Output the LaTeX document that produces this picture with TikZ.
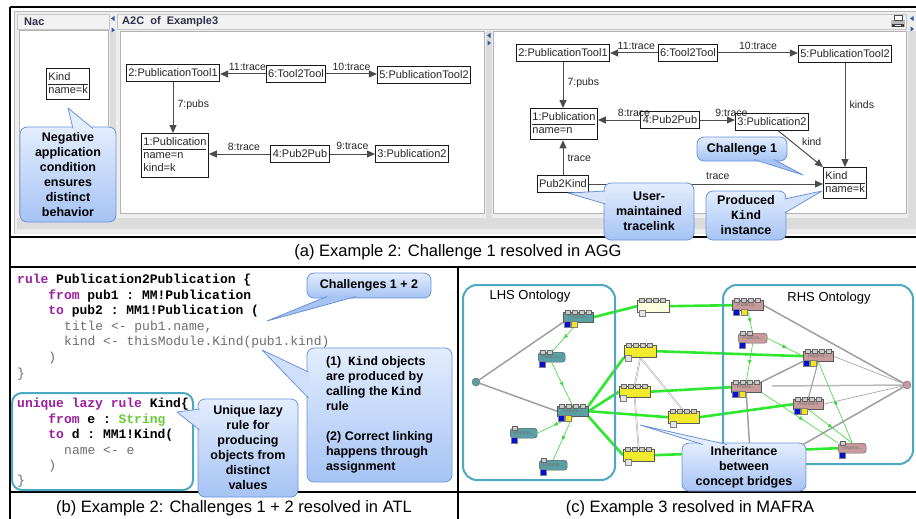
\documentclass[tikz,border=0pt]{standalone}
\usepackage{fontspec}
\setmainfont{Liberation Sans}
\setsansfont{Liberation Sans}
\setmonofont{Liberation Mono}
\usetikzlibrary{arrows.meta,calc,decorations.markings}
\newcommand\myfs[2]{\fontsize{#1}{#2}\selectfont}
\newcommand\objrows[2]{\begin{tabular}{@{}l@{}}#1\\\hline #2\end{tabular}}
\pgfdeclarelayer{back}\pgfdeclarelayer{edges}
\pgfsetlayers{back,edges,main}
\definecolor{cTop}{HTML}{E3EDFD}
\definecolor{cBot}{HTML}{A6C3F4}
\definecolor{cEdge}{HTML}{6C93D8}
\definecolor{ontoline}{HTML}{4DA8C2}
\definecolor{kw}{HTML}{9B1FA0}
\definecolor{strg}{HTML}{66CC33}
\definecolor{codegray}{HTML}{6E6E6E}
\definecolor{lnode}{HTML}{5A9FA3}
\definecolor{rnode}{HTML}{C79B9B}
\definecolor{ynode}{HTML}{F2EA2C}
\definecolor{pnode}{HTML}{FFFFDD}
\definecolor{gthick}{HTML}{2EE82E}
\definecolor{gthin}{HTML}{3ADA3A}
\definecolor{panelbg}{HTML}{EEEEEE}
\definecolor{hdrbg}{HTML}{F2F2F2}
\definecolor{stripc}{HTML}{DCDCDC}
\definecolor{sqblue}{HTML}{0010D8}
\definecolor{sqyel}{HTML}{F4E21C}
\definecolor{hdrtext}{HTML}{303048}
\definecolor{splitarr}{HTML}{2C5AA8}
\newcommand\ontonode[8]{%
  \node[obox, fill=#5, minimum width=#4pt, #8] (#1) at (#2,#3) {#7};
  \foreach \k in {1,...,#6} {\node[tsq] at ($(#1.north west)+(\k*7-2.5,0)$) {};}
}
% pointer of a callout: #1 tip coordinate name, #2 #3 base points, #4 fill colour
\newcommand\calloutptr[4]{%
  \fill[#4] (#1) -- #2 -- #3 -- cycle;
  \draw[ptrline] #2 -- (#1) -- #3;
}
\begin{document}
\begin{tikzpicture}[x=1pt,y=-1pt,
  framel/.style={draw=black, line width=1.6pt},
  obj/.style={draw=black!90, line width=0.9pt, fill=white, inner xsep=2pt, inner ysep=2pt, minimum height=16.5pt, font=\myfs{11}{13}, text=black!85},
  objm/.style={obj, anchor=north west, inner ysep=2.5pt},
  elab/.style={font=\myfs{10.5}{12}, text=black!85, inner sep=1pt},
  arr/.style={draw=black!70, line width=1pt, -{Triangle[length=8pt,width=7pt]}},
  cbox/.style={rectangle, draw=cEdge, line width=0.8pt, top color=cTop, bottom color=cBot, rounded corners=7pt, font=\bfseries\myfs{12.5}{15}, align=center, inner sep=3pt, text=black},
  ptrline/.style={draw=cEdge, line width=0.8pt, line join=round},
  codeln/.style={anchor=base west, inner sep=0pt, font=\ttfamily\myfs{13}{15}},
  captxt/.style={font=\myfs{16.5}{18}, text=black, inner sep=0pt},
  obox/.style={draw=black!65, line width=0.4pt, anchor=north west, minimum height=10pt, inner sep=0pt, font=\myfs{5}{5}, text=black!55},
  tsq/.style={draw=black!60, fill=gray!40, line width=0.3pt, minimum size=4.5pt, inner sep=0pt},
  bsq/.style={draw=black!50, fill=sqblue, line width=0.3pt, minimum size=6pt, inner sep=0pt},
  ysq/.style={draw=black!50, fill=sqyel, line width=0.3pt, minimum size=6pt, inner sep=0pt},
  gsq/.style={draw=black!50, fill=gray!20, line width=0.3pt, minimum size=6pt, inner sep=0pt},
  gline/.style={draw=gray!75, line width=1.5pt},
  gthinl/.style={draw=gray!70, line width=0.7pt},
  grthick/.style={draw=gthick, line width=2.6pt},
  midarr/.style={postaction={decorate}, decoration={markings, mark=at position 0.55 with {\arrow{Latex[length=4.5pt,width=4pt]}}}},
  grthin/.style={draw=gthin, line width=0.6pt, midarr},
  ontobox/.style={draw=ontoline, line width=2pt, rounded corners=14pt},
  splt/.style={fill=splitarr}
]
\useasboundingbox (0,0) rectangle (916,519);
\begin{pgfonlayer}{back}
  \fill[white] (0,0) rectangle (916,519);
  \fill[panelbg] (14,11) rectangle (916,234);
  \draw[gray!55, line width=0.8pt] (14,234) -- (14,11) -- (916,11);
  \draw[gray!45, fill=hdrbg] (17,14) rectangle (109,29);
  \draw[gray!45, fill=hdrbg] (117,14) rectangle (906,29);
  \draw[gray!60, fill=white] (19,30) rectangle (108,214);
  \draw[gray!60, fill=white] (120,31) rectangle (484,213);
  \draw[gray!60, fill=white] (493,31) rectangle (906,213);
  \fill[stripc] (17,218) rectangle (916,229);
  \fill[stripc] (110,30) rectangle (116,218);
  \fill[stripc] (486,31) rectangle (492,218);
  \fill[stripc] (908,31) rectangle (916,218);
  % splitter arrows
  \fill[splt] (111,18.5) -- (114.5,16) -- (114.5,21) -- cycle;
  \fill[splt] (115,30) -- (111.5,27.5) -- (111.5,32.5) -- cycle;
  \fill[splt] (487,35.5) -- (490.5,33) -- (490.5,38) -- cycle;
  \fill[splt] (491,43) -- (487.5,40.5) -- (487.5,45.5) -- cycle;
  \fill[splt] (910,18.5) -- (913.5,16) -- (913.5,21) -- cycle;
  \fill[splt] (914,29) -- (910.5,26.5) -- (910.5,31.5) -- cycle;
  % printer icon
  \fill[gray!55] (891,20) rectangle (905,27);
  \fill[white] (894,15.5) rectangle (902,20);
  \draw[black!70, line width=0.5pt] (894,15.5) rectangle (902,20);
  \fill[black!75] (892,24) rectangle (904,27.5);
  \fill[white] (895,25.2) rectangle (901,26.4);
\end{pgfonlayer}

% headers
\node[anchor=west, font=\bfseries\myfs{11}{13}, text=hdrtext, inner sep=0pt] (hnac) at (24,22) {Nac};
\node[anchor=west, font=\bfseries\myfs{11}{13}, text=hdrtext, inner sep=0pt] (ha2c) at (122,22) {A2C\ \ of\ \ Example3};

% ---------- Nac ----------
\node[objm] (kind0) at (46,68) {\objrows{Kind}{name=k}};

% ---------- A2C panel ----------
\node[obj] (pt1a) at (173,73) {2:PublicationTool1};
\node[obj] (t2ta) at (296,74) {6:Tool2Tool};
\node[obj] (pt2a) at (424,75) {5:PublicationTool2};
\node[objm] (pub1a) at (141,133) {\begin{tabular}{@{}l@{}}1:Publication\\\hline name=n\\kind=k\end{tabular}};
\node[obj] (p2pa) at (300,154) {4:Pub2Pub};
\node[obj] (pub2a) at (412,154) {3:Publication2};
\draw[arr] (t2ta.west) -- node[elab, above=2pt, pos=0.4] {11:trace} (t2ta.west -| pt1a.east);
\draw[arr] (t2ta.east) -- node[elab, above=2pt, pos=0.5] {10:trace} (t2ta.east -| pt2a.west);
\draw[arr] (pt1a.south) -- node[elab, right=3pt, pos=0.45] {7:pubs} (pt1a.south |- pub1a.north);
\draw[arr] (p2pa.west) -- node[elab, above=2pt, pos=0.43] {8:trace} (p2pa.west -| pub1a.east);
\draw[arr] (p2pa.east) -- node[elab, above=3pt, pos=0.5] {9:trace} (p2pa.east -| pub2a.west);

% ---------- right panel ----------
\node[obj] (pt1b) at (563,53) {2:PublicationTool1};
\node[obj] (t2tb) at (688,53) {6:Tool2Tool};
\node[obj] (pt2b) at (845,54) {5:PublicationTool2};
\node[objm] (pub1b) at (530,108) {\objrows{1:Publication}{name=n}};
\node[obj] (p2pb) at (670,120) {4:Pub2Pub};
\node[obj] (pub2b) at (772,122) {3:Publication2};
\node[objm] (kindb) at (823,167) {\objrows{Kind}{name=k}};
\node[obj] (p2k) at (563,184) {Pub2Kind};
\draw[arr] (t2tb.west) -- node[elab, above=2pt, pos=0.45] {11:trace} (t2tb.west -| pt1b.east);
\draw[arr] (t2tb.east) -- node[elab, above=2pt, pos=0.5] {10:trace} (t2tb.east -| pt2b.west);
\draw[arr] (pt1b.south) -- node[elab, right=3pt, pos=0.45] {7:pubs} (pt1b.south |- pub1b.north);
\draw[arr] (p2pb.west) -- node[elab, above=2pt, pos=0.15] {8:trace} (p2pb.west -| pub1b.east);
\draw[arr] (p2pb.east) -- node[elab, above=2pt, pos=0.9] {9:trace} (p2pb.east -| pub2b.west);
\draw[arr] (pt2b.south) -- node[elab, right=3pt, pos=0.4] {kinds} (pt2b.south |- kindb.north);
\draw[arr] (pub2b.-55) -- node[elab, right=9pt, pos=0.3] {kind} (kindb.north west);
\draw[arr] (p2k.north) -- node[elab, right=3pt, pos=0.5] {trace} (p2k.north |- pub1b.south);
\draw[arr] (p2k.east) -- node[elab, above=3pt, pos=0.55] {trace} (p2k.east -| kindb.west);

% ---------- frame lines ----------
\draw[framel] (10,7) -- (916,7);
\draw[framel] (10,7) -- (10,519);
\draw[framel] (10,237) -- (916,237);
\draw[framel] (10,267) -- (916,267);
\draw[framel] (458,267) -- (458,519);
\draw[framel] (10,492) -- (916,492);

% ---------- captions ----------
\node[captxt] (capa) at (458,252) {(a) Example 2: Challenge 1 resolved in AGG};
\node[captxt] (capb) at (234,508) {(b) Example 2: Challenges 1 + 2 resolved in ATL};
\node[captxt] (capc) at (690,508) {(c) Example 3 resolved in MAFRA};

% ---------- (b) ATL code ----------
\draw[ontobox, rounded corners=10pt] (12,393) rectangle (193,490);
\node[codeln] (l1) at (17,283) {{\color{kw}\bfseries rule} {\bfseries Publication2Publication \{}};
\node[codeln] (l2) at (48.2,299) {{\color{kw}\bfseries from} {\bfseries pub1 : MM!Publication}};
\node[codeln] (l3) at (48.2,314) {{\color{kw}\bfseries to} {\bfseries pub2 : MM1!Publication (}};
\node[codeln, text=codegray] (l4) at (64,330) {title <- pub1.name,};
\node[codeln, text=codegray] (l5) at (64,345) {kind <- thisModule.Kind(pub1.kind)};
\node[codeln, text=codegray] (l6) at (48.2,361) {)};
\node[codeln, text=codegray] (l7) at (17,377) {\}};
\node[codeln] (l8) at (17,407) {{\color{kw}\bfseries unique lazy rule} {\bfseries Kind\{}};
\node[codeln] (l9) at (48.2,423) {{\color{kw}\bfseries from} {\bfseries e :} {\color{strg}\bfseries String}};
\node[codeln] (l10) at (48.2,438) {{\color{kw}\bfseries to} {\bfseries d : MM1!Kind(}};
\node[codeln, text=codegray] (l11) at (64,454) {name <- e};
\node[codeln, text=codegray] (l12) at (48.2,469) {)};
\node[codeln, text=codegray] (l13) at (17,484) {\}};

% ---------- (c) MAFRA ----------
\draw[ontobox] (463,285) rectangle (615,480);
\draw[ontobox] (723,285) rectangle (913,464);
\node[font=\myfs{13}{15}, inner sep=0pt] (lhs) at (530,296) {LHS Ontology};
\node[font=\myfs{13}{15}, inner sep=0pt] (rhs) at (829,298) {RHS Ontology};
\node[circle, draw=black!60, fill=lnode, minimum size=8pt, inner sep=0pt, line width=0.4pt] (LC) at (476,382) {};
\node[circle, draw=black!60, fill=rnode, minimum size=8pt, inner sep=0pt, line width=0.4pt] (RC) at (907,385) {};
\ontonode{A}{563}{312}{30}{lnode}{4}{Publica...}{}
\ontonode{B}{538}{352}{27}{lnode}{2}{Publica...}{rounded corners=3pt}
\ontonode{C}{557}{406}{31}{lnode}{4}{Repeat...}{}
\ontonode{D}{510}{428}{27}{lnode}{1}{Repear...}{rounded corners=3pt}
\ontonode{E}{539}{460}{28}{lnode}{1}{Repear...}{rounded corners=3pt}
\ontonode{PL}{637}{300}{32}{pnode}{4}{}{minimum height=12pt}
\ontonode{Y1}{624}{345}{32}{ynode}{4}{}{minimum height=12pt}
\ontonode{Y2}{619}{386}{31}{ynode}{4}{}{minimum height=11pt}
\ontonode{Y3}{668}{411}{31}{ynode}{4}{}{minimum height=12pt}
\ontonode{Y4}{623}{449}{31}{ynode}{4}{}{minimum height=12pt}
\ontonode{P1}{732}{300}{31}{rnode}{4}{Publica...}{}
\ontonode{P2}{738}{333}{29}{rnode}{2}{Publica...}{rounded corners=3pt}
\ontonode{P3}{803}{351}{30}{rnode}{4}{Repeat...}{}
\ontonode{P4}{731}{382}{30}{rnode}{4}{Protec...}{}
\ontonode{P5}{793}{399}{30}{rnode}{4}{Assistant}{}
\ontonode{P6}{838}{443}{28}{rnode}{1}{Repear...}{rounded corners=3pt}
\node[bsq] at ($(A.south west)+(4,2)$) {};
\node[ysq] at ($(A.south west)+(11,2)$) {};
\node[bsq] at ($(B.south west)+(4,2)$) {};
\node[bsq] at ($(C.south west)+(4,2)$) {};
\node[ysq] at ($(C.south west)+(11,2)$) {};
\node[bsq] at ($(D.south west)+(4,2)$) {};
\node[bsq] at ($(E.south west)+(4,2)$) {};
\node[gsq] at ($(PL.south west)+(5,1)$) {};
\node[gsq] at ($(Y1.south west)+(4,1)$) {};
\node[gsq] at ($(Y2.south west)+(4,1)$) {};
\node[gsq] at ($(Y3.south west)+(5,1)$) {};
\node[gsq] at ($(Y4.south west)+(5,1)$) {};
\node[bsq] at ($(P1.south west)+(4,2)$) {};
\node[ysq] at ($(P1.south west)+(12,2)$) {};
\node[bsq] at ($(P2.south west)+(4,2)$) {};
\node[bsq] at ($(P3.south west)+(3,2)$) {};
\node[ysq] at ($(P3.south west)+(10,2)$) {};
\node[bsq] at ($(P4.south west)+(4,2)$) {};
\node[ysq] at ($(P4.south west)+(11,2)$) {};
\node[bsq] at ($(P5.south west)+(4,2)$) {};
\node[ysq] at ($(P5.south west)+(11,2)$) {};
\node[bsq] at ($(P6.south west)+(4,2)$) {};
\coordinate (hz) at (772,386);
\coordinate (rcd) at (790,452);
\coordinate (p4d) at (750,452);
\begin{pgfonlayer}{edges}
  \draw[gline] (LC) -- (A.south west);
  \draw[gline] (LC) -- (C.west);
  \draw[gthinl, double=white, double distance=0.6pt, line width=0.5pt] (Y1.south) -- (Y2.north);
  \draw[gthinl, double=white, double distance=0.6pt, line width=0.5pt] (Y1.south) -- (Y3.north);
  \draw[gthinl, double=white, double distance=0.6pt, line width=0.5pt] (Y2.south) -- (Y4.north);
  \draw[gline] (RC) -- (P1.east);
  \draw[gthinl] (RC) -- (P3.east);
  \draw[gline, draw=gray!55] (RC) -- (hz);
  \draw[gthinl] (RC) -- (P5.east);
  \draw[gline] (RC) -- (rcd);
  \draw[gline] (P4.north east) -- (P3.south west);
  \draw[gline, line width=1.1pt] (P5.north) -- (P3.south);
  \draw[gline] (P4.south) -- (p4d);
  \draw[grthick] (A.east) -- (PL.west);
  \draw[grthick] (PL.east) -- (P1.west);
  \draw[grthick] (C.north east) -- (Y1.south west);
  \draw[grthick] (C.east) -- (Y2.west);
  \draw[grthick] (C.east) -- (Y3.west);
  \draw[grthick] (C.south east) -- (Y4.west);
  \draw[grthick] (Y1.east) -- (P3.west);
  \draw[grthick] (Y2.east) -- (P4.west);
  \draw[grthick] (Y3.east) -- (P5.west);
  \draw[grthick] (Y4.east) -- (P6.west);
  \draw[grthin] (A.south) -- (B.north);
  \draw[grthin] (B.south) -- (C.north);
  \draw[grthin] (C.south) -- (D.east);
  \draw[grthin] (C.south) -- (E.north);
  \draw[grthin] (P1.south) -- (P2.north);
  \draw[grthin] (P2.east) -- (P3.west);
  \draw[grthin] (P2.south) -- (P4.north);
  \draw[grthin] (P3.south) -- (P6.north);
  \draw[grthin] (P4.south east) -- (P6.north west);
  \draw[grthin] (P5.south) -- (P6.north);
\end{pgfonlayer}

% ---------- callouts ----------
\coordinate (tipnac) at (68,108);
\coordinate (tipch1) at (803,175);
\coordinate (tipuser) at (568,193);
\coordinate (tipprod) at (822,191);
\coordinate (tipch12) at (267,321);
\coordinate (tipkind) at (262,350);
\coordinate (tipuniq) at (177,412);
\coordinate (tipinh) at (640,425);
\node[cbox, minimum width=96pt, minimum height=95pt, text width=88pt] (cnac) at (68,174.5) {Negative\\application\\condition\\ensures\\distinct\\behavior};
\calloutptr{tipnac}{(73,128.5)}{(93,128.5)}{cTop}
\node[cbox, minimum width=90pt, minimum height=24pt] (cch1) at (742,149) {Challenge 1};
\calloutptr{tipch1}{(754,159.5)}{(774,159.5)}{cBot}
\node[cbox, minimum width=90pt, minimum height=57pt] (cuser) at (649,211.5) {User-\\maintained\\tracelink};
\calloutptr{tipuser}{(605.5,191)}{(605.5,204)}{cTop!80!cBot}
\node[cbox, minimum width=80pt, minimum height=49pt] (cprod) at (746,215.5) {Produced\\\texttt{Kind}\\instance};
\calloutptr{tipprod}{(784.5,199)}{(784.5,213)}{cTop!75!cBot}
\node[cbox, minimum width=124pt, minimum height=25pt] (cch12) at (369,285.5) {Challenges 1 + 2};
\calloutptr{tipch12}{(327,296.5)}{(356,296.5)}{cBot}
\node[cbox, align=left, minimum width=145pt, minimum height=134pt] (ckind) at (379.5,415) {(1)\ \ \texttt{Kind} objects\\are produced by\\calling the \texttt{Kind}\\rule\\[15pt](2) Correct linking\\happens through\\assignment};
\calloutptr{tipkind}{(308.5,372)}{(308.5,398)}{cTop!70!cBot}
\node[cbox, minimum width=100pt, minimum height=98pt] (cuniq) at (248,448) {Unique lazy\\rule for\\producing\\objects from\\distinct\\values};
\calloutptr{tipuniq}{(199.5,409)}{(199.5,430)}{cTop!80!cBot}
\node[cbox, minimum width=124pt, minimum height=48pt] (cinh) at (744,467) {Inheritance\\between\\concept bridges};
\calloutptr{tipinh}{(703,444.5)}{(727,444.5)}{cTop}
\end{tikzpicture}
\end{document}
